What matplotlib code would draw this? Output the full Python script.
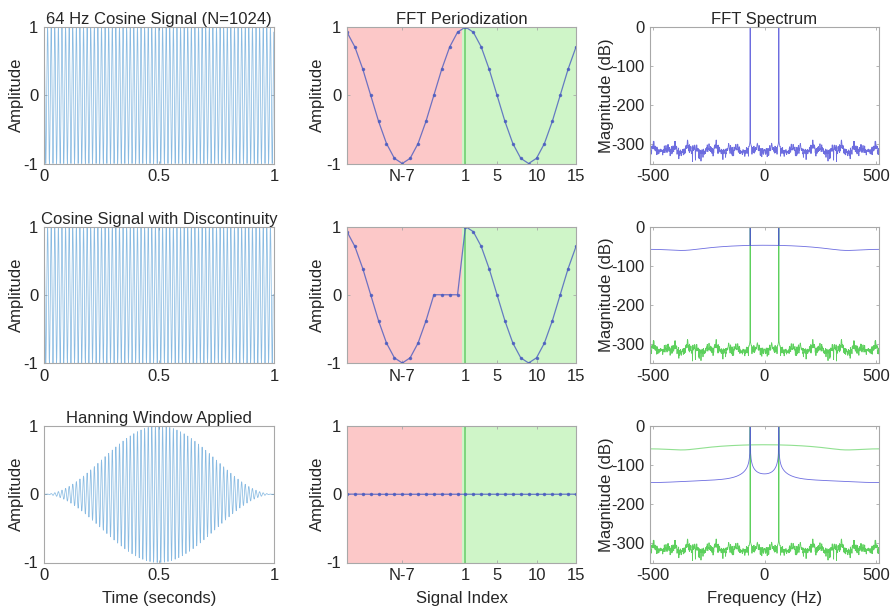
import numpy as np
import matplotlib
matplotlib.use("Agg")
import matplotlib.pyplot as plt

plt.rcParams['font.family'] = ['Liberation Sans', 'DejaVu Sans']
plt.rcParams['font.size'] = 12
plt.rcParams['axes.unicode_minus'] = False

# signal parameters
fs = 1024          # sampling rate (Hz)
N = 1024           # number of samples
f0 = 64            # cosine frequency (Hz)
n_zeroed = 3       # trailing samples forced to zero

# periodization view: sample positions around the wrap point
period_idx = np.arange(-14, 16)
period_ticks = [-7, 1, 5, 10, 15]
period_ticklabels = ['N-7', '1', '5', '10', '15']

titles_left = ['64 Hz Cosine Signal (N=1024)',
               'Cosine Signal with Discontinuity',
               'Hanning Window Applied']

t = np.arange(N) / fs
x_clean = np.cos(2 * np.pi * f0 * t)
x_disc = x_clean.copy()
x_disc[-n_zeroed:] = 0
# hanning without the zero end points, applied to the truncated signal
k = np.arange(1, N + 1)
win = 0.5 * (1 - np.cos(2 * np.pi * k / (N + 1)))
x_hann = x_disc * win
signals = [x_clean, x_disc, x_hann]

freqs = (np.arange(N) - N // 2) * fs / N


def spectrum_db(x):
    mag = np.abs(np.fft.fftshift(np.fft.fft(x)))
    mag = np.maximum(mag, 1e-300)
    return 20 * np.log10(mag / mag.max())


spec = [spectrum_db(s) for s in signals]

sig_color = '#3d8fd0'
mid_color = '#4a5cc0'
blue = '#4848d8'
green = '#40c840'
spine_gray = '#a8a8a8'
text_gray = '#262626'

W, H = 892, 613
cols = [(44, 230), (347, 229), (650, 229)]
rows = [(27, 136.5), (226.5, 136.5), (426, 136.5)]

fig = plt.figure(figsize=(W / 100, H / 100), dpi=100)


def make_ax(r, c):
    left, w = cols[c]
    top, h = rows[r]
    ax = fig.add_axes([left / W, 1 - (top + h) / H, w / W, h / H])
    for s in ax.spines.values():
        s.set_color(spine_gray)
        s.set_linewidth(0.8)
    ax.tick_params(direction='in', top=True, right=True, length=2.5,
                   width=0.6, color=spine_gray, labelcolor=text_gray,
                   labelsize=12, pad=4)
    return ax


for r in range(3):
    # time-domain signal
    ax = make_ax(r, 0)
    ax.plot(t, signals[r], color=sig_color, lw=0.55, alpha=0.6)
    ax.set_xlim(0, 1)
    ax.set_ylim(-1, 1)
    ax.set_xticks([0, 0.5, 1])
    ax.set_xticklabels(['0', '0.5', '1'])
    ax.set_yticks([-1, 0, 1])
    ax.set_ylabel('Amplitude', color=text_gray, labelpad=0)
    ax.set_title(titles_left[r], color=text_gray, fontsize=12, pad=2)
    if r == 2:
        ax.set_xlabel('Time (seconds)', color=text_gray, labelpad=6)

    # periodic extension around the frame boundary
    ax = make_ax(r, 1)
    ax.axvspan(-14, 0.5, color='#fcc8c8', lw=0)
    ax.axvspan(0.5, 15, color='#cff5c8', lw=0)
    ax.axvline(1, color='#70d070', lw=1.2)
    vals = signals[r][(period_idx - 1) % N]
    ax.plot(period_idx, vals, '.-', color=mid_color, lw=0.9, ms=3,
            alpha=0.8)
    ax.set_xlim(-14, 15)
    ax.set_ylim(-1, 1)
    ax.set_xticks(period_ticks)
    ax.set_xticklabels(period_ticklabels)
    ax.set_yticks([-1, 0, 1])
    ax.set_ylabel('Amplitude', color=text_gray, labelpad=1)
    if r == 0:
        ax.set_title('FFT Periodization', color=text_gray, fontsize=12,
                     pad=2)
    if r == 2:
        ax.set_xlabel('Signal Index', color=text_gray, labelpad=6)

    # magnitude spectrum
    ax = make_ax(r, 2)
    if r == 1:
        ax.plot(freqs, spec[0], color=green, lw=0.6, alpha=0.85)
    if r == 2:
        ax.plot(freqs, spec[0], color=green, lw=0.6, alpha=0.85)
        ax.plot(freqs, spec[1], color='#90e090', lw=0.8)
    ax.plot(freqs, spec[r], color=blue, lw=0.6, alpha=0.8)
    ax.set_xlim(-512, 512)
    ax.set_ylim(-350, 0)
    ax.set_xticks([-500, 0, 500])
    ax.set_yticks([-300, -200, -100, 0])
    ax.set_ylabel('Magnitude (dB)', color=text_gray, labelpad=-2)
    if r == 0:
        ax.set_title('FFT Spectrum', color=text_gray, fontsize=12, pad=2)
    if r == 2:
        ax.set_xlabel('Frequency (Hz)', color=text_gray, labelpad=6)

fig.savefig('out.png', dpi=100, facecolor='white')
